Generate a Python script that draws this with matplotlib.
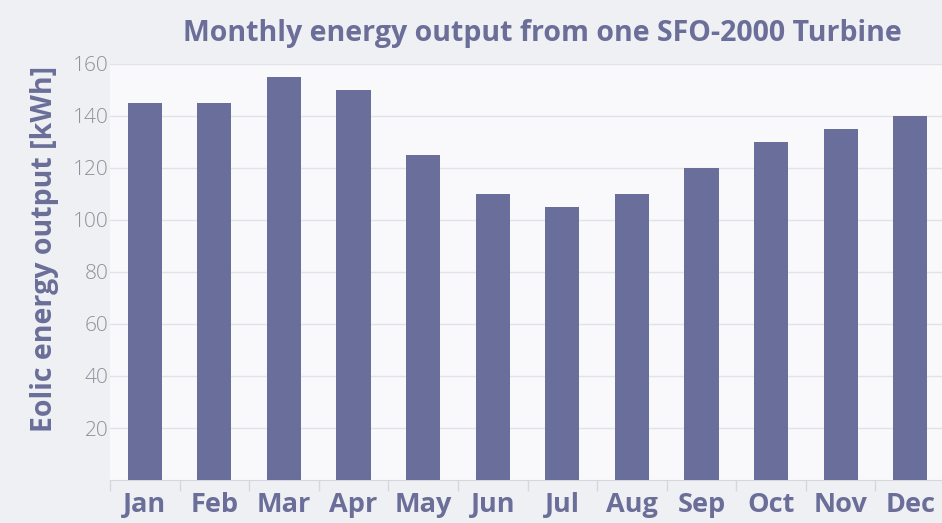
import matplotlib
matplotlib.use("Agg")
import matplotlib.pyplot as plt
from matplotlib.ticker import FixedLocator

months = ["Jan", "Feb", "Mar", "Apr", "May", "Jun",
          "Jul", "Aug", "Sep", "Oct", "Nov", "Dec"]
output_kwh = [145, 145, 155, 150, 125, 110, 105, 110, 120, 130, 135, 140]
y_ticks = [20, 40, 60, 80, 100, 120, 140, 160]

bar_color = "#6a6e9b"
text_color = "#6a6e98"
tick_color = "#8e909c"
grid_color = "#e2e3e8"

plt.rcParams["font.family"] = ["Open Sans", "DejaVu Sans"]

fig = plt.figure(figsize=(9.42, 5.23), dpi=100, facecolor="#eef0f3")
ax = fig.add_axes([110 / 942, 1 - 480 / 523, 835 / 942, 416 / 523])
ax.set_facecolor("#f9f9fb")

x = range(len(months))
ax.bar(x, output_kwh, width=0.49, color=bar_color, zorder=3)

ax.set_xlim(-0.5, len(months) - 0.5)
ax.set_ylim(0, 160)

ax.yaxis.set_major_locator(FixedLocator(y_ticks))
ax.set_yticklabels([str(t) for t in y_ticks], fontsize=15, color=tick_color,
                   fontweight="light")
ax.tick_params(axis="y", length=0, pad=1)
ax.grid(axis="y", color=grid_color, linewidth=1.0, zorder=0)

ax.set_xticks(list(x))
ax.set_xticklabels(months, fontsize=19.5, fontweight="bold", color=text_color)
ax.tick_params(axis="x", which="major", length=0, pad=9)
ax.xaxis.set_minor_locator(FixedLocator([i - 0.5 for i in range(len(months) + 1)]))
ax.tick_params(axis="x", which="minor", length=8, color="#d6d7dd", width=1)

for side in ["top", "right", "left"]:
    ax.spines[side].set_visible(False)
ax.spines["bottom"].set_color("#d6d7dd")

fig.text(542 / 942, 1 - 33 / 523, "Monthly energy output from one SFO-2000 Turbine",
         ha="center", va="center", fontsize=20.5, fontweight="bold", color=text_color)
fig.text(45 / 942, 1 - 249 / 523, "Eolic energy output [kWh]", rotation=90,
         ha="center", va="center", fontsize=20.5, fontweight="bold", color=text_color)

fig.savefig("out.png", dpi=100, facecolor=fig.get_facecolor())
